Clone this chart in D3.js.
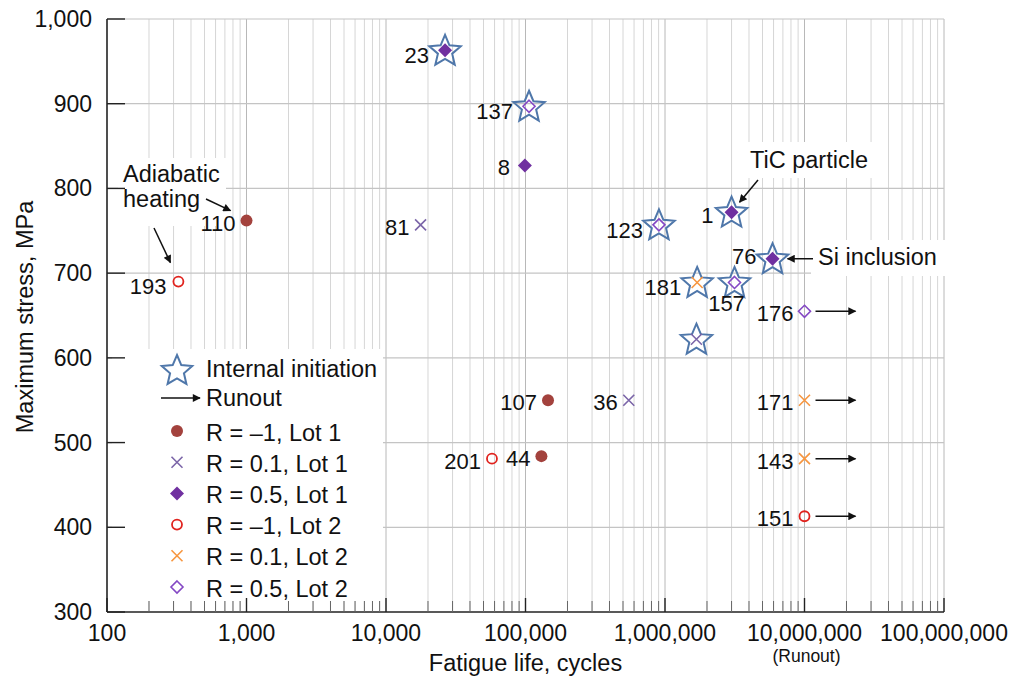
<!DOCTYPE html>
<html>
<head>
<script src="https://d3js.org/d3.v7.min.js"></script>
<style>
  body { margin: 0; background: #ffffff; }
  text { font-family: "Liberation Sans", Arial, sans-serif; fill: #111; }
</style>
</head>
<body>
<div id="chart"></div>
<script>
// data
const sampleIds = ["110", "193", "23", "137", "8", "81", "123", "1", "76", "181", "157", "", "176", "107", "36", "201", "44", "171", "143", "151"];
const cycles = [1000, 325, 26500, 106000, 99000, 17700, 905000, 3000000, 5900000, 1700000, 3150000, 1680000, 1e7, 145000, 550000, 57500, 130000, 1e7, 1e7, 1e7];
const stress = [762, 690, 963, 897, 827, 757, 757, 772, 717, 689, 689, 622, 655, 550, 550, 481, 484, 550, 481, 413];
const seriesIndex = [0, 3, 2, 5, 2, 1, 5, 2, 2, 4, 5, 1, 5, 0, 1, 3, 0, 4, 4, 3];
const internalInit = [false, false, true, true, false, false, true, true, true, true, true, true, false, false, false, false, false, false, false, false];
const runout = [false, false, false, false, false, false, false, false, false, false, false, false, true, false, false, false, false, true, true, true];

const seriesNames = ["R = \u20131, Lot 1", "R = 0.1, Lot 1", "R = 0.5, Lot 1", "R = \u20131, Lot 2", "R = 0.1, Lot 2", "R = 0.5, Lot 2"];
const xTicks = [100, 1e3, 1e4, 1e5, 1e6, 1e7, 1e8];
const yTicks = [300, 400, 500, 600, 700, 800, 900, 1000];

const width = 1014, height = 678;
const bigFont = 23.5, tickFont = 23, labelFont = 22;

const svg = d3.select("#chart").append("svg")
  .attr("width", width).attr("height", height);

const x = d3.scaleLog().domain([100, 1e8]).range([107, 944]);
const y = d3.scaleLinear().domain([300, 1000]).range([612, 19]);

const defs = svg.append("defs");
defs.append("marker")
  .attr("id", "arr")
  .attr("viewBox", "0 0 10 10")
  .attr("refX", 9).attr("refY", 5)
  .attr("markerWidth", 11).attr("markerHeight", 8)
  .attr("markerUnits", "userSpaceOnUse")
  .attr("orient", "auto")
  .append("path").attr("d", "M0,0 L10,5 L0,10 z").attr("fill", "#111");

// grid
const grid = svg.append("g");
const minorVals = [];
for (let d = 100; d < 1e8; d *= 10) {
  for (let k = 2; k <= 9; k++) minorVals.push(k * d);
}
grid.selectAll(".vmin").data(minorVals).enter().append("line")
  .attr("x1", d => x(d)).attr("x2", d => x(d))
  .attr("y1", y(1000)).attr("y2", y(300))
  .attr("stroke", "#d6d6d6").attr("stroke-width", 1);
grid.selectAll(".vmaj").data(xTicks.slice(1)).enter().append("line")
  .attr("x1", d => x(d)).attr("x2", d => x(d))
  .attr("y1", y(1000)).attr("y2", y(300))
  .attr("stroke", "#b8b8b8").attr("stroke-width", 1);
grid.selectAll(".hmaj").data(yTicks.slice(1)).enter().append("line")
  .attr("x1", x(100)).attr("x2", x(1e8))
  .attr("y1", d => y(d)).attr("y2", d => y(d))
  .attr("stroke", "#c4c4c4").attr("stroke-width", 1.2);

// white boxes behind legend and notes
const boxes = [[112, 349, 271, 252], [118, 158, 108, 68], [744, 142, 132, 36], [811, 240, 134, 36]];
svg.append("g").selectAll("rect").data(boxes).enter().append("rect")
  .attr("x", d => d[0]).attr("y", d => d[1])
  .attr("width", d => d[2]).attr("height", d => d[3])
  .attr("fill", "#fff");

// axes
const axes = svg.append("g");
axes.append("line").attr("x1", x(100)).attr("x2", x(100)).attr("y1", y(1000)).attr("y2", y(300))
  .attr("stroke", "#222").attr("stroke-width", 1.6);
axes.append("line").attr("x1", x(100)).attr("x2", x(1e8)).attr("y1", y(300)).attr("y2", y(300))
  .attr("stroke", "#222").attr("stroke-width", 1.6);
axes.selectAll(".yt").data(yTicks).enter().append("line")
  .attr("x1", x(100)).attr("x2", x(100) + 18)
  .attr("y1", d => y(d)).attr("y2", d => y(d))
  .attr("stroke", "#222").attr("stroke-width", 1.4);
axes.selectAll(".xtmin").data(minorVals).enter().append("line")
  .attr("x1", d => x(d)).attr("x2", d => x(d))
  .attr("y1", y(300)).attr("y2", y(300) - 11)
  .attr("stroke", "#666").attr("stroke-width", 1);
axes.selectAll(".xtmaj").data(xTicks).enter().append("line")
  .attr("x1", d => x(d)).attr("x2", d => x(d))
  .attr("y1", y(300)).attr("y2", y(300) - 14)
  .attr("stroke", "#222").attr("stroke-width", 1.4);

const fmt = d3.format(",");
axes.selectAll(".yl").data(yTicks).enter().append("text")
  .attr("x", 92).attr("y", d => y(d) + 8)
  .attr("text-anchor", "end").attr("font-size", tickFont)
  .text(d => fmt(d));
axes.selectAll(".xl").data(xTicks).enter().append("text")
  .attr("x", d => x(d)).attr("y", 641)
  .attr("text-anchor", "middle").attr("font-size", tickFont)
  .text(d => fmt(d));
axes.append("text").attr("x", x(1e7) + 2).attr("y", 662)
  .attr("text-anchor", "middle").attr("font-size", 17.5).text("(Runout)");
axes.append("text").attr("x", (x(100) + x(1e8)) / 2).attr("y", 671)
  .attr("text-anchor", "middle").attr("font-size", bigFont).text("Fatigue life, cycles");
axes.append("text")
  .attr("transform", "translate(33,317) rotate(-90)")
  .attr("text-anchor", "middle").attr("font-size", bigFont).text("Maximum stress, MPa");

// symbols
function starPath(cx, cy, R, r) {
  const pts = [];
  for (let i = 0; i < 10; i++) {
    const a = -Math.PI / 2 + i * Math.PI / 5;
    const rad = i % 2 === 0 ? R : r;
    pts.push([cx + rad * Math.cos(a), cy + rad * Math.sin(a)]);
  }
  return "M" + pts.map(p => p[0].toFixed(2) + "," + p[1].toFixed(2)).join("L") + "Z";
}

function drawMarker(g, type, cx, cy) {
  if (type === 0) {
    g.append("circle").attr("cx", cx).attr("cy", cy).attr("r", 6).attr("fill", "#a3423d");
  } else if (type === 3) {
    g.append("circle").attr("cx", cx).attr("cy", cy).attr("r", 5).attr("fill", "none")
      .attr("stroke", "#e0231e").attr("stroke-width", 1.8);
  } else if (type === 1 || type === 4) {
    const s = 5.5;
    g.append("path")
      .attr("d", `M${cx - s},${cy - s}L${cx + s},${cy + s}M${cx - s},${cy + s}L${cx + s},${cy - s}`)
      .attr("stroke", type === 1 ? "#7b65a8" : "#f7963f").attr("stroke-width", 1.6).attr("fill", "none");
  } else if (type === 2) {
    const s = 7;
    g.append("path").attr("d", `M${cx},${cy - s}L${cx + s},${cy}L${cx},${cy + s}L${cx - s},${cy}Z`)
      .attr("fill", "#7030a0");
  } else if (type === 5) {
    const s = 6;
    g.append("path").attr("d", `M${cx},${cy - s}L${cx + s},${cy}L${cx},${cy + s}L${cx - s},${cy}Z`)
      .attr("fill", "none").attr("stroke", "#8448c4").attr("stroke-width", 1.6);
  }
}

const starColor = "#4f77aa";
const pts = svg.append("g");
const labels = svg.append("g");

// label nudges: [dx from point, dy baseline, anchor]
const nudge = {
  "157": [-8, 29, "middle"],
  "76": [-16, 5, "end"],
  "1": [-18, 11, "end"],
  "193": [-12, 12, "end"],
  "8": [-15, 9, "end"]
};

sampleIds.forEach((id, i) => {
  const cx = x(cycles[i]), cy = y(stress[i]);
  if (internalInit[i]) {
    pts.append("path").attr("d", starPath(cx, cy + 1, 16.5, 7.5))
      .attr("fill", "none").attr("stroke", starColor).attr("stroke-width", 2);
  }
  drawMarker(pts, seriesIndex[i], cx, cy);
  if (runout[i]) {
    pts.append("line").attr("x1", cx + 11).attr("x2", cx + 51)
      .attr("y1", cy).attr("y2", cy)
      .attr("stroke", "#111").attr("stroke-width", 1.5).attr("marker-end", "url(#arr)");
  }
  if (id) {
    const n = nudge[id] || [internalInit[i] ? -16 : -11, internalInit[i] ? 13 : 10, "end"];
    labels.append("text").attr("x", cx + n[0]).attr("y", cy + n[1])
      .attr("text-anchor", n[2]).attr("font-size", labelFont).text(id);
  }
});

// annotations
function pt(id) {
  const i = sampleIds.indexOf(id);
  return [x(cycles[i]), y(stress[i])];
}
const notes = svg.append("g");
function arrow(x1, y1, x2, y2) {
  notes.append("line").attr("x1", x1).attr("y1", y1).attr("x2", x2).attr("y2", y2)
    .attr("stroke", "#111").attr("stroke-width", 1.5).attr("marker-end", "url(#arr)");
}
notes.append("text").attr("x", 123).attr("y", 182).attr("font-size", bigFont).text("Adiabatic");
notes.append("text").attr("x", 123).attr("y", 207).attr("font-size", bigFont).text("heating");
let p = pt("110");
arrow(206, 199, p[0] - 16, p[1] - 10);
p = pt("193");
arrow(154, 228, p[0] - 8, p[1] - 19);
notes.append("text").attr("x", 750).attr("y", 168).attr("font-size", bigFont).text("TiC particle");
p = pt("1");
arrow(758, 180, p[0] + 8, p[1] - 10);
notes.append("text").attr("x", 818).attr("y", 265).attr("font-size", bigFont).text("Si inclusion");
p = pt("76");
arrow(813, p[1], p[0] + 15, p[1]);

// legend
const lg = svg.append("g");
const lx = 177, tx = 206;
lg.append("path").attr("d", starPath(lx, 371, 16, 7.3))
  .attr("fill", "none").attr("stroke", starColor).attr("stroke-width", 2);
lg.append("text").attr("x", tx).attr("y", 377).attr("font-size", bigFont).text("Internal initiation");
lg.append("line").attr("x1", 161).attr("x2", 200).attr("y1", 398).attr("y2", 398)
  .attr("stroke", "#111").attr("stroke-width", 1.5).attr("marker-end", "url(#arr)");
lg.append("text").attr("x", tx).attr("y", 406).attr("font-size", bigFont).text("Runout");
seriesNames.forEach((name, i) => {
  const cy = 431 + i * 31.2;
  drawMarker(lg, i, lx, cy);
  lg.append("text").attr("x", tx).attr("y", cy + 9.5).attr("font-size", bigFont).text(name);
});
</script>
</body>
</html>
